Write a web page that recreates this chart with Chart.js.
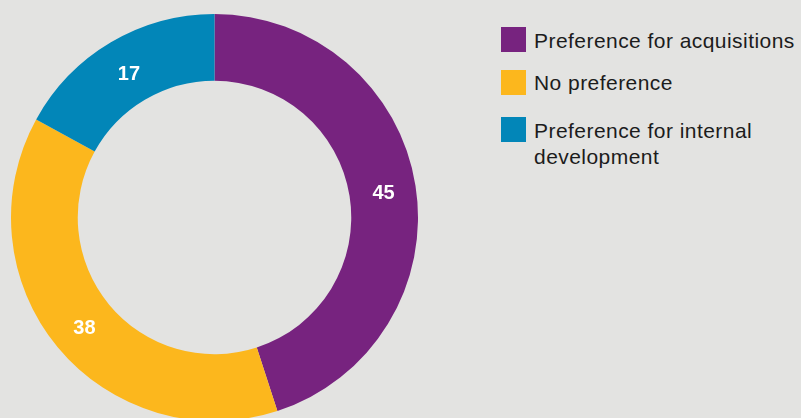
<!DOCTYPE html>
<html>
<head>
<meta charset="utf-8">
<script src="https://cdn.jsdelivr.net/npm/chart.js@4/dist/chart.umd.min.js"></script>
<style>
    html, body { margin: 0; padding: 0; background: #e3e3e1; overflow: hidden; }
    body { width: 801px; height: 418px; position: relative; font-family: "Liberation Sans", Arial, sans-serif; }
    #donut { position: absolute; left: 0; top: 0; }
    #legend { position: absolute; left: 501px; top: 0; margin: 0; padding: 0; list-style: none; }
    #legend li { position: absolute; left: 0; padding-left: 33px; white-space: nowrap;
                 font-size: 21px; line-height: 26px; letter-spacing: 0.45px; color: #1c1c1c; }
    #legend li span { position: absolute; left: 0; top: -1px; width: 25px; height: 25px; }
</style>
</head>
<body>
<canvas id="donut" width="430" height="440"></canvas>
<ul id="legend"></ul>
<script>
'use strict';
(function () {
    var labels = ['Preference for acquisitions', 'No preference', 'Preference for internal development'];
    var legendLines = [['Preference for acquisitions'], ['No preference'], ['Preference for internal', 'development']];
    var values = [45, 38, 17];
    var colors = ['#77237f', '#fcb71d', '#0286b8'];
    var legendTops = [28, 70, 118];

    // white value labels in the middle of each ring segment
    var sliceLabels = {
        id: 'sliceLabels',
        afterDatasetsDraw: function (chart) {
            var ctx = chart.ctx;
            var meta = chart.getDatasetMeta(0);
            ctx.save();
            ctx.fillStyle = '#ffffff';
            ctx.font = 'bold 20px "Liberation Sans", Arial, sans-serif';
            ctx.textAlign = 'center';
            ctx.textBaseline = 'middle';
            meta.data.forEach(function (arc, i) {
                var pos = arc.tooltipPosition();
                ctx.fillText(String(values[i]), pos.x + 1, pos.y + 3);
            });
            ctx.restore();
        }
    };

    new Chart(document.getElementById('donut').getContext('2d'), {
        type: 'doughnut',
        data: {
            labels: labels,
            datasets: [{
                data: values,
                backgroundColor: colors,
                borderWidth: 0
            }]
        },
        options: {
            responsive: false,
            animation: false,
            devicePixelRatio: 1,
            cutout: '67.2%',
            layout: { padding: { left: 11, right: 12, top: 14, bottom: 19 } },
            plugins: {
                legend: { display: false },
                tooltip: { enabled: false }
            }
        },
        plugins: [sliceLabels]
    });

    var legend = document.getElementById('legend');
    for (let i = 0; i < labels.length; i++) {
        var li = document.createElement('li');
        var box = document.createElement('span');
        li.style.top = legendTops[i] + 'px';
        if (i === 1) box.style.top = '0px';
        box.style.background = colors[i];
        li.appendChild(box);
        li.appendChild(document.createTextNode(legendLines[i][0]));
        for (let j = 1; j < legendLines[i].length; j++) {
            li.appendChild(document.createElement('br'));
            li.appendChild(document.createTextNode(legendLines[i][j]));
        }
        legend.appendChild(li);
    }
})();
</script>
</body>
</html>
